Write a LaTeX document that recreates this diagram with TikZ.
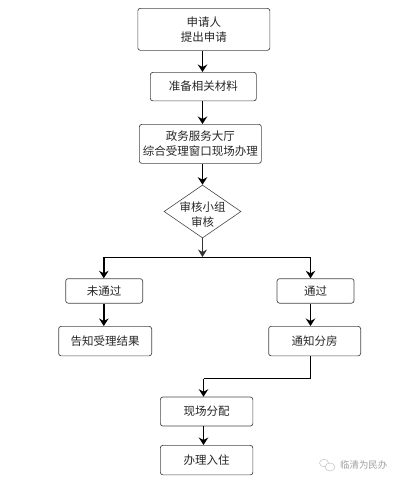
\documentclass[tikz,border=0pt]{standalone}
\usepackage{fontspec}
\setmainfont{Noto Sans CJK SC}
\usetikzlibrary{shapes.geometric,arrows.meta}
\definecolor{boxline}{gray}{0.28}
\definecolor{txt}{gray}{0.15}
\tikzset{
  x=1pt,y=-1pt,
  flowbox/.style={draw=boxline,line width=0.7pt,rounded corners=2.5pt,inner sep=0pt,
    align=center,text=txt,font=\fontsize{11.5pt}{15pt}\selectfont,anchor=north west},
  flowdia/.style={draw=boxline,line width=0.6pt,diamond,inner sep=0pt,aspect=1.45},
  flowlabel/.style={align=center,text=txt,inner sep=0pt,font=\fontsize{11.5pt}{15pt}\selectfont},
  link/.style={draw=black,line width=1.5pt,-{Stealth[length=7.5pt,width=9.5pt,inset=2.5pt]}},
  thinlink/.style={draw=black!80,line width=1pt,-{Stealth[length=7.5pt,width=9pt,inset=2.5pt]}},
  bar/.style={draw=black,line width=1pt},
  wechat/.style={draw=black!22,line width=0.6pt,ellipse,fill=white,inner sep=0pt}
}
\begin{document}
\begin{tikzpicture}
\useasboundingbox (0,0) rectangle (400,482);
\coordinate (cx) at (202.5,0);
\node[flowbox,minimum width=132pt,minimum height=42pt] (a) at (137.5,8) {申请人\\提出申请};
\node[flowbox,minimum width=106pt,minimum height=28.5pt] (b) at (150,72) {准备相关材料};
\node[flowbox,minimum width=122pt,minimum height=39pt] (c) at (139,124) {政务服务大厅\\综合受理窗口现场办理};
\node[flowdia,minimum width=77pt,minimum height=53pt] (d) at (202.5,211.5) {};
\node[flowlabel] (dl) at (202.5,215) {审核小组\\审核};
\coordinate (j) at (202.5,257);
\coordinate (jl) at (103.8,257);
\coordinate (jr) at (310.5,257);
\node[flowbox,minimum width=77pt,minimum height=24.5pt] (e) at (65.3,278.3) {未通过};
\node[flowbox,minimum width=77pt,minimum height=24.5pt] (f) at (276.7,278.3) {通过};
\node[flowbox,minimum width=93pt,minimum height=29.5pt] (g) at (58.3,326) {告知受理结果};
\node[flowbox,minimum width=92pt,minimum height=29.5pt] (h) at (268.3,326) {通知分房};
\coordinate (k) at (310.5,378.5);
\coordinate (m) at (203.5,378.5);
\node[flowbox,minimum width=92.5pt,minimum height=29pt] (n) at (160,396.7) {现场分配};
\node[flowbox,minimum width=92.5pt,minimum height=29.5pt] (o) at (160,445) {办理入住};
\draw[link] (a.south -| cx) -- (b.north -| cx);
\draw[link] (b.south -| cx) -- (c.north -| cx);
\draw[link] (c.south -| cx) -- (d.north);
\draw[thinlink] (d.south) -- (j);
\draw[bar] (jl) -- (jr);
\draw[link] (jl) -- (jl |- e.north);
\draw[link] (jr) -- (jr |- f.north);
\draw[link] (jl |- e.south) -- (jl |- g.north);
\draw[link] (jr |- f.south) -- (jr |- h.north);
\draw[bar] (jr |- h.south) -- (k) -- (m);
\draw[link] (m) -- (m |- n.north);
\draw[link] (m |- n.south) -- (m |- o.north);
\node[wechat,minimum width=9pt,minimum height=7.5pt] (w1) at (324,463) {};
\node[wechat,minimum width=10pt,minimum height=8pt] (w2) at (330,467) {};
\node[text=black!38,inner sep=0pt,font=\fontsize{9.4pt}{11pt}\selectfont,anchor=west] (w) at (340,465) {临清为民办};
\end{tikzpicture}
\end{document}
